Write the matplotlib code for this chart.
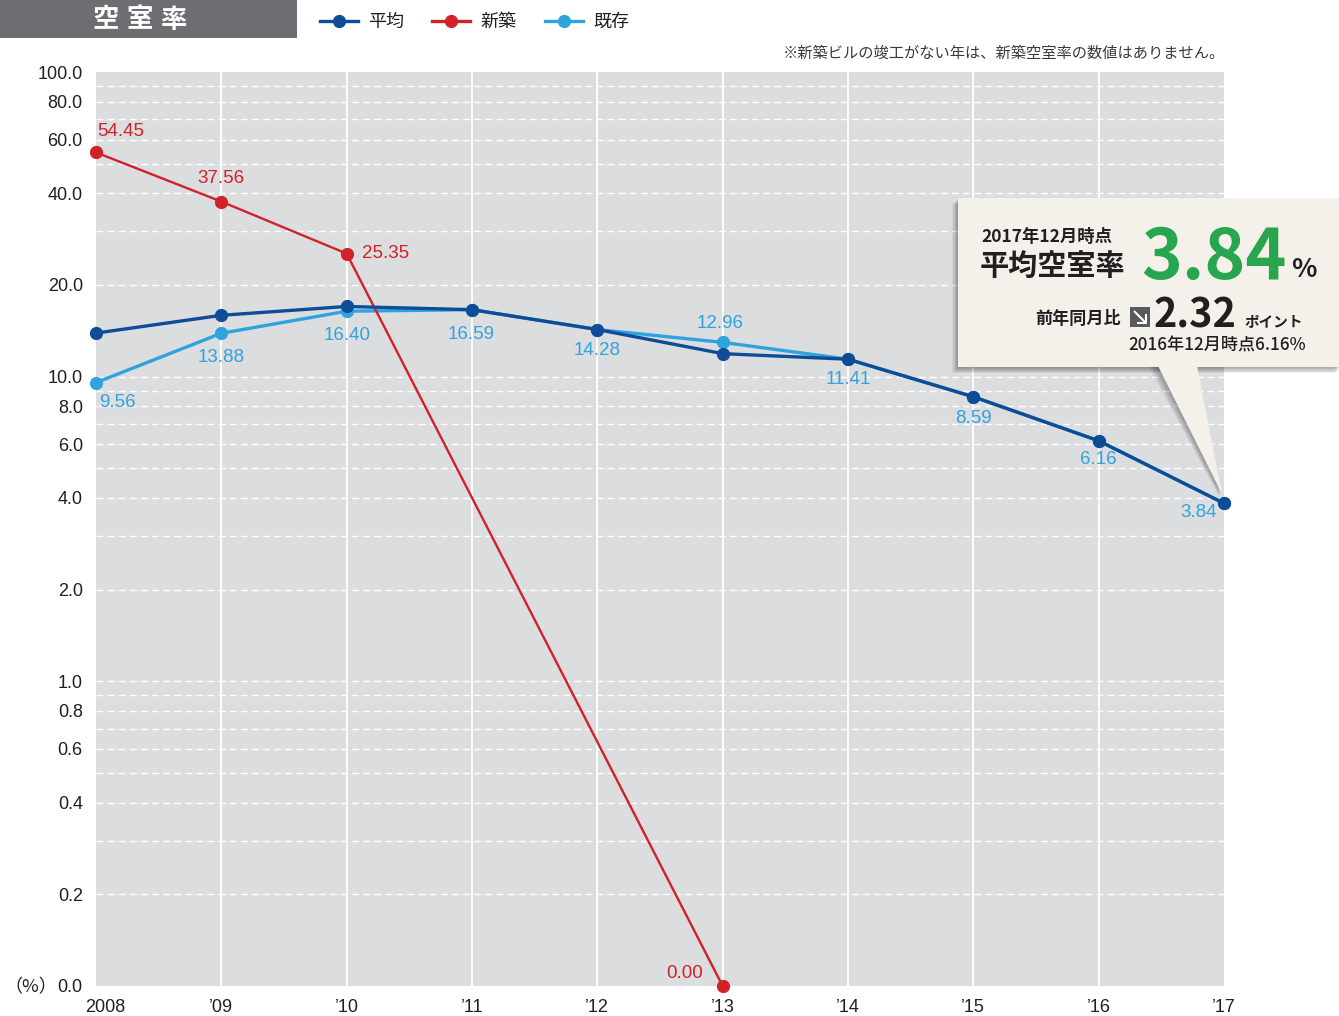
import matplotlib
matplotlib.use("Agg")
import matplotlib.pyplot as plt
from matplotlib.patches import Rectangle, Polygon
from matplotlib.lines import Line2D
from matplotlib.transforms import ScaledTranslation

# ---- data -------------------------------------------------------------
years = ["2008", "’09", "’10", "’11", "’12", "’13", "’14", "’15", "’16", "’17"]
avg_rate = [13.9, 15.9, 17.0, 16.59, 14.28, 11.9, 11.41, 8.59, 6.16, 3.84]
new_rate = [54.45, 37.56, 25.35, None, None, 0.00, None, None, None, None]
existing_rate = [9.56, 13.88, 16.40, 16.59, 14.28, 12.96, 11.41, 8.59, 6.16, 3.84]

y_ticks = [0.1, 0.2, 0.4, 0.6, 0.8, 1, 2, 4, 6, 8, 10, 20, 40, 60, 80, 100]
y_tick_labels = ["0.0", "0.2", "0.4", "0.6", "0.8", "1.0", "2.0", "4.0", "6.0",
                 "8.0", "10.0", "20.0", "40.0", "60.0", "80.0", "100.0"]

series_names = ["平均", "新築", "既存"]

# ---- style ------------------------------------------------------------
W, H = 1339, 1016
C_AVG = "#0f4c97"
C_NEW = "#cf2229"
C_EXIST = "#2fa3dd"
C_BG = "#dcdddf"
C_TXT = "#231f20"
JP = ["Noto Sans CJK JP", "DejaVu Sans"]
NUM = ["Liberation Sans", "Noto Sans CJK JP", "DejaVu Sans"]

plt.rcParams["font.family"] = NUM


def fp(x, y):
    """pixel position (top-left origin) -> figure fraction"""
    return x / W, 1 - y / H


fig = plt.figure(figsize=(W / 100, H / 100), dpi=100)
ax = fig.add_axes([96 / W, 1 - 986 / H, (1224 - 96) / W, (986 - 72) / H])
ax.set_facecolor(C_BG)
for s in ax.spines.values():
    s.set_visible(False)

ax.set_yscale("log")
ax.set_ylim(0.1, 100)
ax.set_xlim(0, len(years) - 1)
xs = list(range(len(years)))

# grid: white solid verticals, white dashed horizontals on the log sub-steps
for x in xs[1:-1]:
    ax.axvline(x, color="white", lw=1.3, zorder=1)
grid_vals = [k * 10 ** e for e in (-1, 0, 1) for k in range(2, 10)] + [1, 10]
for gv in grid_vals:
    ax.axhline(gv, color="white", lw=1.0, ls=(0, (5, 3)), zorder=1)

ax.set_yticks(y_ticks)
ax.set_yticklabels(y_tick_labels)
ax.yaxis.set_minor_locator(matplotlib.ticker.NullLocator())
ax.set_xticks(xs)
ax.set_xticklabels(years)
ax.tick_params(axis="both", length=0, labelsize=13, colors=C_TXT)
ax.tick_params(axis="y", pad=9.5)
ax.tick_params(axis="x", pad=9.5)
first = ax.get_xticklabels()[0]
first.set_transform(first.get_transform() + ScaledTranslation(9 / 100, 0, fig.dpi_scale_trans))

floor = ax.get_ylim()[0]

# series: existing (under), new, average (top)
ax.plot(xs, existing_rate, color=C_EXIST, lw=2.4, marker="o", ms=8.5,
        zorder=3, clip_on=False)
nx = [x for x, v in zip(xs, new_rate) if v is not None]
nv = [max(v, floor) for v in new_rate if v is not None]
ax.plot(nx, nv, color=C_NEW, lw=1.7, marker="o", ms=8.5, zorder=4, clip_on=False)
ax.plot(xs, avg_rate, color=C_AVG, lw=2.4, marker="o", ms=8.5, zorder=5, clip_on=False)

# value labels
new_offsets = {0: (25, 21, "center"), 1: (0, 23, "center"), 2: (15, 0, "left"),
               5: (-20, 13, "right")}
for i, (x, v) in enumerate(zip(xs, new_rate)):
    if v is None:
        continue
    dx, dy, ha = new_offsets[i]
    ax.annotate(f"{v:.2f}", (x, max(v, floor)), xytext=(dx, dy),
                textcoords="offset pixels", ha=ha, va="center",
                color=C_NEW, fontsize=13.5, zorder=6, annotation_clip=False)

exist_offsets = [(3, -20, "left"), (0, -24, "center"), (0, -24, "center"),
                 (-1, -25, "center"), (0, -21, "center"), (-3, 19, "center"),
                 (0, -20, "center"), (0, -22, "center"), (0, -19, "center"),
                 (-7, -9, "right")]
for x, v, (dx, dy, ha) in zip(xs, existing_rate, exist_offsets):
    ax.annotate(f"{v:.2f}", (x, v), xytext=(dx, dy), textcoords="offset pixels",
                ha=ha, va="center", color=C_EXIST, fontsize=13.5, zorder=6,
                annotation_clip=False)

# "(%)" unit mark
fig.text(*fp(4, 987), "（%）", family=JP, fontsize=13, color=C_TXT,
         ha="left", va="center")

# ---- header: title block, legend, footnote ---------------------------
fig.add_artist(Rectangle(fp(0, 38), 297 / W, 38 / H, transform=fig.transFigure,
                         facecolor="#6d6e71", edgecolor="none"))
for ch, cx in zip("空室率", (106, 140, 173)):
    fig.text(*fp(cx, 20), ch, family=JP, fontsize=19, weight="bold",
             color="white", ha="center", va="center")

legend_colors = [C_AVG, C_NEW, C_EXIST]
legend_x = [320, 432, 545]
for name, col, lx in zip(series_names, legend_colors, legend_x):
    x0, y0 = fp(lx, 21)
    x1, _ = fp(lx + 38, 21)
    fig.add_artist(Line2D([x0, x1], [y0, y0], transform=fig.transFigure,
                          color=col, lw=2.4))
    fig.add_artist(Line2D([(x0 + x1) / 2], [y0], transform=fig.transFigure,
                          color=col, marker="o", ms=8.5))
    fig.text(*fp(lx + 48, 22), name, family=JP, fontsize=13, color=C_TXT,
             ha="left", va="center")

fig.text(*fp(1225, 53), "※新築ビルの竣工がない年は、新築空室率の数値はありません。",
         family=JP, fontsize=11, color="#3a3a3c", ha="right", va="center")

# ---- callout ----------------------------------------------------------
BOX_L, BOX_T, BOX_R, BOX_B = 958, 198, 1339, 367
tip = (1222, 494)
base_l, base_r = 1158, 1197

# soft shadow
for k in range(1, 8):
    a = 0.05
    fig.add_artist(Rectangle(fp(BOX_L - k * 0.8, BOX_B + k * 0.9),
                             (BOX_R - BOX_L + 2) / W, (BOX_B - BOX_T) / H,
                             transform=fig.transFigure, facecolor="black",
                             edgecolor="none", alpha=a, zorder=2))
    pts = [fp(base_l - k * 1.5, BOX_B - 2), fp(base_r - k * 0.5, BOX_B - 2),
           fp(tip[0] - k * 0.4, tip[1] + k * 0.4)]
    fig.add_artist(Polygon(pts, closed=True, transform=fig.transFigure,
                           facecolor="black", edgecolor="none", alpha=a, zorder=2))

BOX_COL = "#f4f0ea"
fig.add_artist(Rectangle(fp(BOX_L, BOX_B), (BOX_R - BOX_L + 2) / W, (BOX_B - BOX_T) / H,
                         transform=fig.transFigure, facecolor=BOX_COL,
                         edgecolor="none", zorder=3))
fig.add_artist(Polygon([fp(base_l, BOX_B - 1), fp(base_r, BOX_B - 1), fp(*tip)],
                       closed=True, transform=fig.transFigure, facecolor=BOX_COL,
                       edgecolor="none", zorder=3))

fig.text(*fp(981, 242), "2017年12月時点", family=JP, fontsize=12.5, weight="bold",
         color=C_TXT, ha="left", va="baseline", zorder=4)
fig.text(*fp(980, 275), "平均空室率", family=JP, fontsize=21, weight="bold",
         color=C_TXT, ha="left", va="baseline", zorder=4)
fig.text(*fp(1141, 279), f"{avg_rate[-1]:.2f}", family=JP, fontsize=50, weight="bold",
         color="#27a64f", ha="left", va="baseline", zorder=4)
fig.text(*fp(1291, 277), "%", family=JP, fontsize=19, weight="bold",
         color=C_TXT, ha="left", va="baseline", zorder=4)
fig.text(*fp(1035, 324), "前年同月比", family=JP, fontsize=12.3, weight="bold",
         color=C_TXT, ha="left", va="baseline", zorder=4)

# down-right arrow icon
fig.add_artist(Rectangle(fp(1130, 327), 20 / W, 20 / H, transform=fig.transFigure,
                         facecolor="#58595b", edgecolor="none", zorder=4))
for seg in ([(1134, 311), (1146, 323)], [(1146, 314), (1146, 323), (1137, 323)]):
    px = [fp(*p) for p in seg]
    fig.add_artist(Line2D([p[0] for p in px], [p[1] for p in px],
                          transform=fig.transFigure, color="white", lw=1.5,
                          solid_capstyle="butt", zorder=5))

diff = avg_rate[-2] - avg_rate[-1]
fig.text(*fp(1154, 327), f"{diff:.2f}", family=JP, fontsize=28.5, weight="bold",
         color=C_TXT, ha="left", va="baseline", zorder=4)
fig.text(*fp(1244, 326), "ポイント", family=JP, fontsize=10.5, weight="bold",
         color=C_TXT, ha="left", va="baseline", zorder=4)
fig.text(*fp(1306, 350), f"2016年12月時点{avg_rate[-2]:.2f}%", family=JP,
         fontsize=12.3, weight="medium", color=C_TXT, ha="right", va="baseline",
         zorder=4)

fig.savefig("out.png", dpi=100)
